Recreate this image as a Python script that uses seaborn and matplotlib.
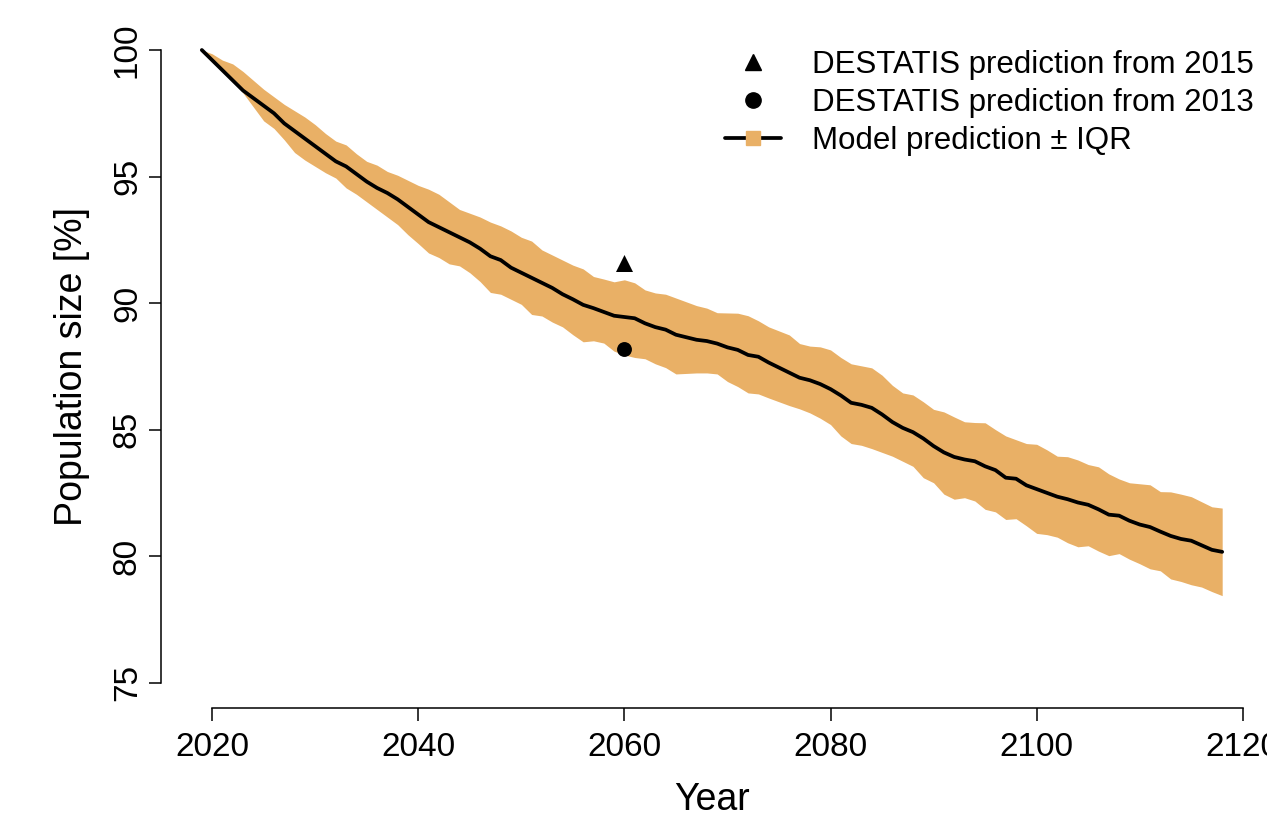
import numpy as np
import pandas as pd
import matplotlib
matplotlib.use("Agg")
import matplotlib.pyplot as plt
import seaborn as sns
from matplotlib.lines import Line2D
from matplotlib.legend_handler import HandlerTuple

years = list(range(2019, 2119))

median = [100.0, 99.6, 99.2, 98.8, 98.4, 98.1, 97.8, 97.5, 97.1, 96.8,
          96.5, 96.2, 95.9, 95.6, 95.4, 95.1, 94.8, 94.55, 94.35, 94.1,
          93.8, 93.5, 93.2, 93.0, 92.8, 92.6, 92.4, 92.15, 91.85, 91.7,
          91.4, 91.2, 91.0, 90.8, 90.6, 90.35, 90.15, 89.93, 89.8, 89.65,
          89.5, 89.45, 89.4, 89.2, 89.05, 88.95, 88.75, 88.65, 88.55, 88.5,
          88.4, 88.25, 88.15, 87.95, 87.88, 87.65, 87.45, 87.25, 87.05, 86.95,
          86.8, 86.6, 86.35, 86.06, 85.98, 85.86, 85.6, 85.3, 85.07, 84.9,
          84.65, 84.35, 84.1, 83.92, 83.82, 83.75, 83.55, 83.4, 83.1, 83.06,
          82.8, 82.65, 82.5, 82.35, 82.25, 82.12, 82.03, 81.85, 81.64, 81.6,
          81.4, 81.25, 81.15, 80.97, 80.8, 80.68, 80.61, 80.43, 80.25, 80.17]

upper = [100.0, 99.85, 99.6, 99.45, 99.15, 98.8, 98.45, 98.15, 97.85, 97.6,
         97.35, 97.05, 96.7, 96.4, 96.25, 95.9, 95.6, 95.45, 95.2, 95.05,
         94.85, 94.65, 94.5, 94.3, 94.0, 93.7, 93.55, 93.4, 93.2, 93.05,
         92.85, 92.6, 92.45, 92.1, 91.9, 91.7, 91.5, 91.35, 91.05, 90.95,
         90.84, 90.92, 90.8, 90.52, 90.4, 90.35, 90.2, 90.05, 89.9, 89.8,
         89.62, 89.61, 89.6, 89.5, 89.3, 89.06, 88.9, 88.74, 88.4, 88.3,
         88.27, 88.15, 87.85, 87.6, 87.52, 87.44, 87.15, 86.75, 86.45, 86.37,
         86.1, 85.8, 85.7, 85.5, 85.31, 85.28, 85.27, 85.0, 84.75, 84.6,
         84.45, 84.42, 84.2, 83.95, 83.93, 83.8, 83.62, 83.53, 83.25, 83.05,
         82.9, 82.86, 82.82, 82.55, 82.54, 82.45, 82.35, 82.15, 81.95, 81.9]

lower = [100.0, 99.65, 99.2, 98.85, 98.3, 97.75, 97.2, 96.9, 96.45, 95.95,
         95.65, 95.4, 95.15, 94.94, 94.55, 94.3, 94.0, 93.7, 93.4, 93.1,
         92.7, 92.35, 91.98, 91.8, 91.55, 91.47, 91.2, 90.85, 90.42, 90.35,
         90.15, 89.95, 89.55, 89.49, 89.25, 89.06, 88.75, 88.47, 88.51, 88.42,
         88.1, 87.95, 87.85, 87.8, 87.6, 87.45, 87.2, 87.22, 87.24, 87.24,
         87.2, 86.9, 86.7, 86.45, 86.41, 86.25, 86.1, 85.95, 85.82, 85.66,
         85.45, 85.2, 84.75, 84.45, 84.38, 84.25, 84.1, 83.95, 83.75, 83.55,
         83.1, 82.9, 82.45, 82.25, 82.31, 82.18, 81.85, 81.75, 81.45, 81.48,
         81.2, 80.9, 80.85, 80.75, 80.53, 80.37, 80.41, 80.2, 80.02, 80.1,
         79.88, 79.7, 79.5, 79.42, 79.1, 79.0, 78.87, 78.78, 78.6, 78.44]

destatis_2015_year = [2060]
destatis_2015_value = [91.6]
destatis_2013_year = [2060]
destatis_2013_value = [88.2]

x_ticks = [2020, 2040, 2060, 2080, 2100, 2120]
y_ticks = [75, 80, 85, 90, 95, 100]
legend_labels = ["DESTATIS prediction from 2015",
                 "DESTATIS prediction from 2013",
                 "Model prediction \u00b1 IQR"]

ORANGE = "#E9B066"

sns.set_style("ticks")
plt.rcParams['font.family'] = ['Liberation Sans', 'DejaVu Sans']
plt.rcParams['text.color'] = 'black'
plt.rcParams['axes.labelcolor'] = 'black'
plt.rcParams['xtick.color'] = 'black'
plt.rcParams['ytick.color'] = 'black'

W, H = 1267, 819
fig = plt.figure(figsize=(W / 100, H / 100), dpi=100)
ax = fig.add_axes([161 / W, 1 - 708 / H, 1102 / W, (708 - 24.7) / H])

df = pd.DataFrame({"Year": years, "median": median, "upper": upper, "lower": lower})

ax.fill_between(df["Year"], df["lower"], df["upper"], color=ORANGE, linewidth=0)
sns.lineplot(data=df, x="Year", y="median", color="black", lw=2.7, ax=ax)
sns.scatterplot(x=destatis_2015_year, y=destatis_2015_value, marker="^", s=150,
                color="black", linewidth=0, ax=ax)
sns.scatterplot(x=destatis_2013_year, y=destatis_2013_value, marker="o", s=115,
                color="black", linewidth=0, ax=ax)

ax.set_xlim(2015.04, 2121.96)
ax.set_ylim(74, 101)
ax.set_xticks(x_ticks)
ax.set_yticks(y_ticks)
ax.set_xticklabels([str(t) for t in x_ticks])
ax.set_yticklabels([str(t) for t in y_ticks], rotation=90, va="center")

for s in ["top", "right"]:
    ax.spines[s].set_visible(False)
ax.spines["left"].set_bounds(75, 100)
ax.spines["bottom"].set_bounds(2020, 2120)
for s in ["left", "bottom"]:
    ax.spines[s].set_linewidth(1.1)
    ax.spines[s].set_color("black")

ax.tick_params(axis="both", length=9, width=1.1, colors="black", labelsize=24)
ax.tick_params(axis="x", pad=8)
ax.tick_params(axis="y", pad=4)

ax.set_xlabel("Year", fontsize=27, labelpad=14)
ax.set_ylabel("Population size [%]", fontsize=27, labelpad=16)

h1 = Line2D([], [], marker="^", color="black", linestyle="none", markersize=11)
h2 = Line2D([], [], marker="o", color="black", linestyle="none", markersize=11)
h3 = (Line2D([], [], color="black", lw=2.7),
      Line2D([], [], marker="s", color=ORANGE, linestyle="none", markersize=10))
leg = ax.legend([h1, h2, h3], legend_labels,
                handler_map={tuple: HandlerTuple(ndivide=1, pad=0)},
                loc="upper left", bbox_to_anchor=(725 / W, 1 - 50 / H),
                bbox_transform=fig.transFigure, frameon=False, fontsize=22.5,
                handlelength=1.8, handletextpad=1.0, labelspacing=0.25,
                borderpad=0, borderaxespad=0)

fig.savefig("out.png", dpi=100)
